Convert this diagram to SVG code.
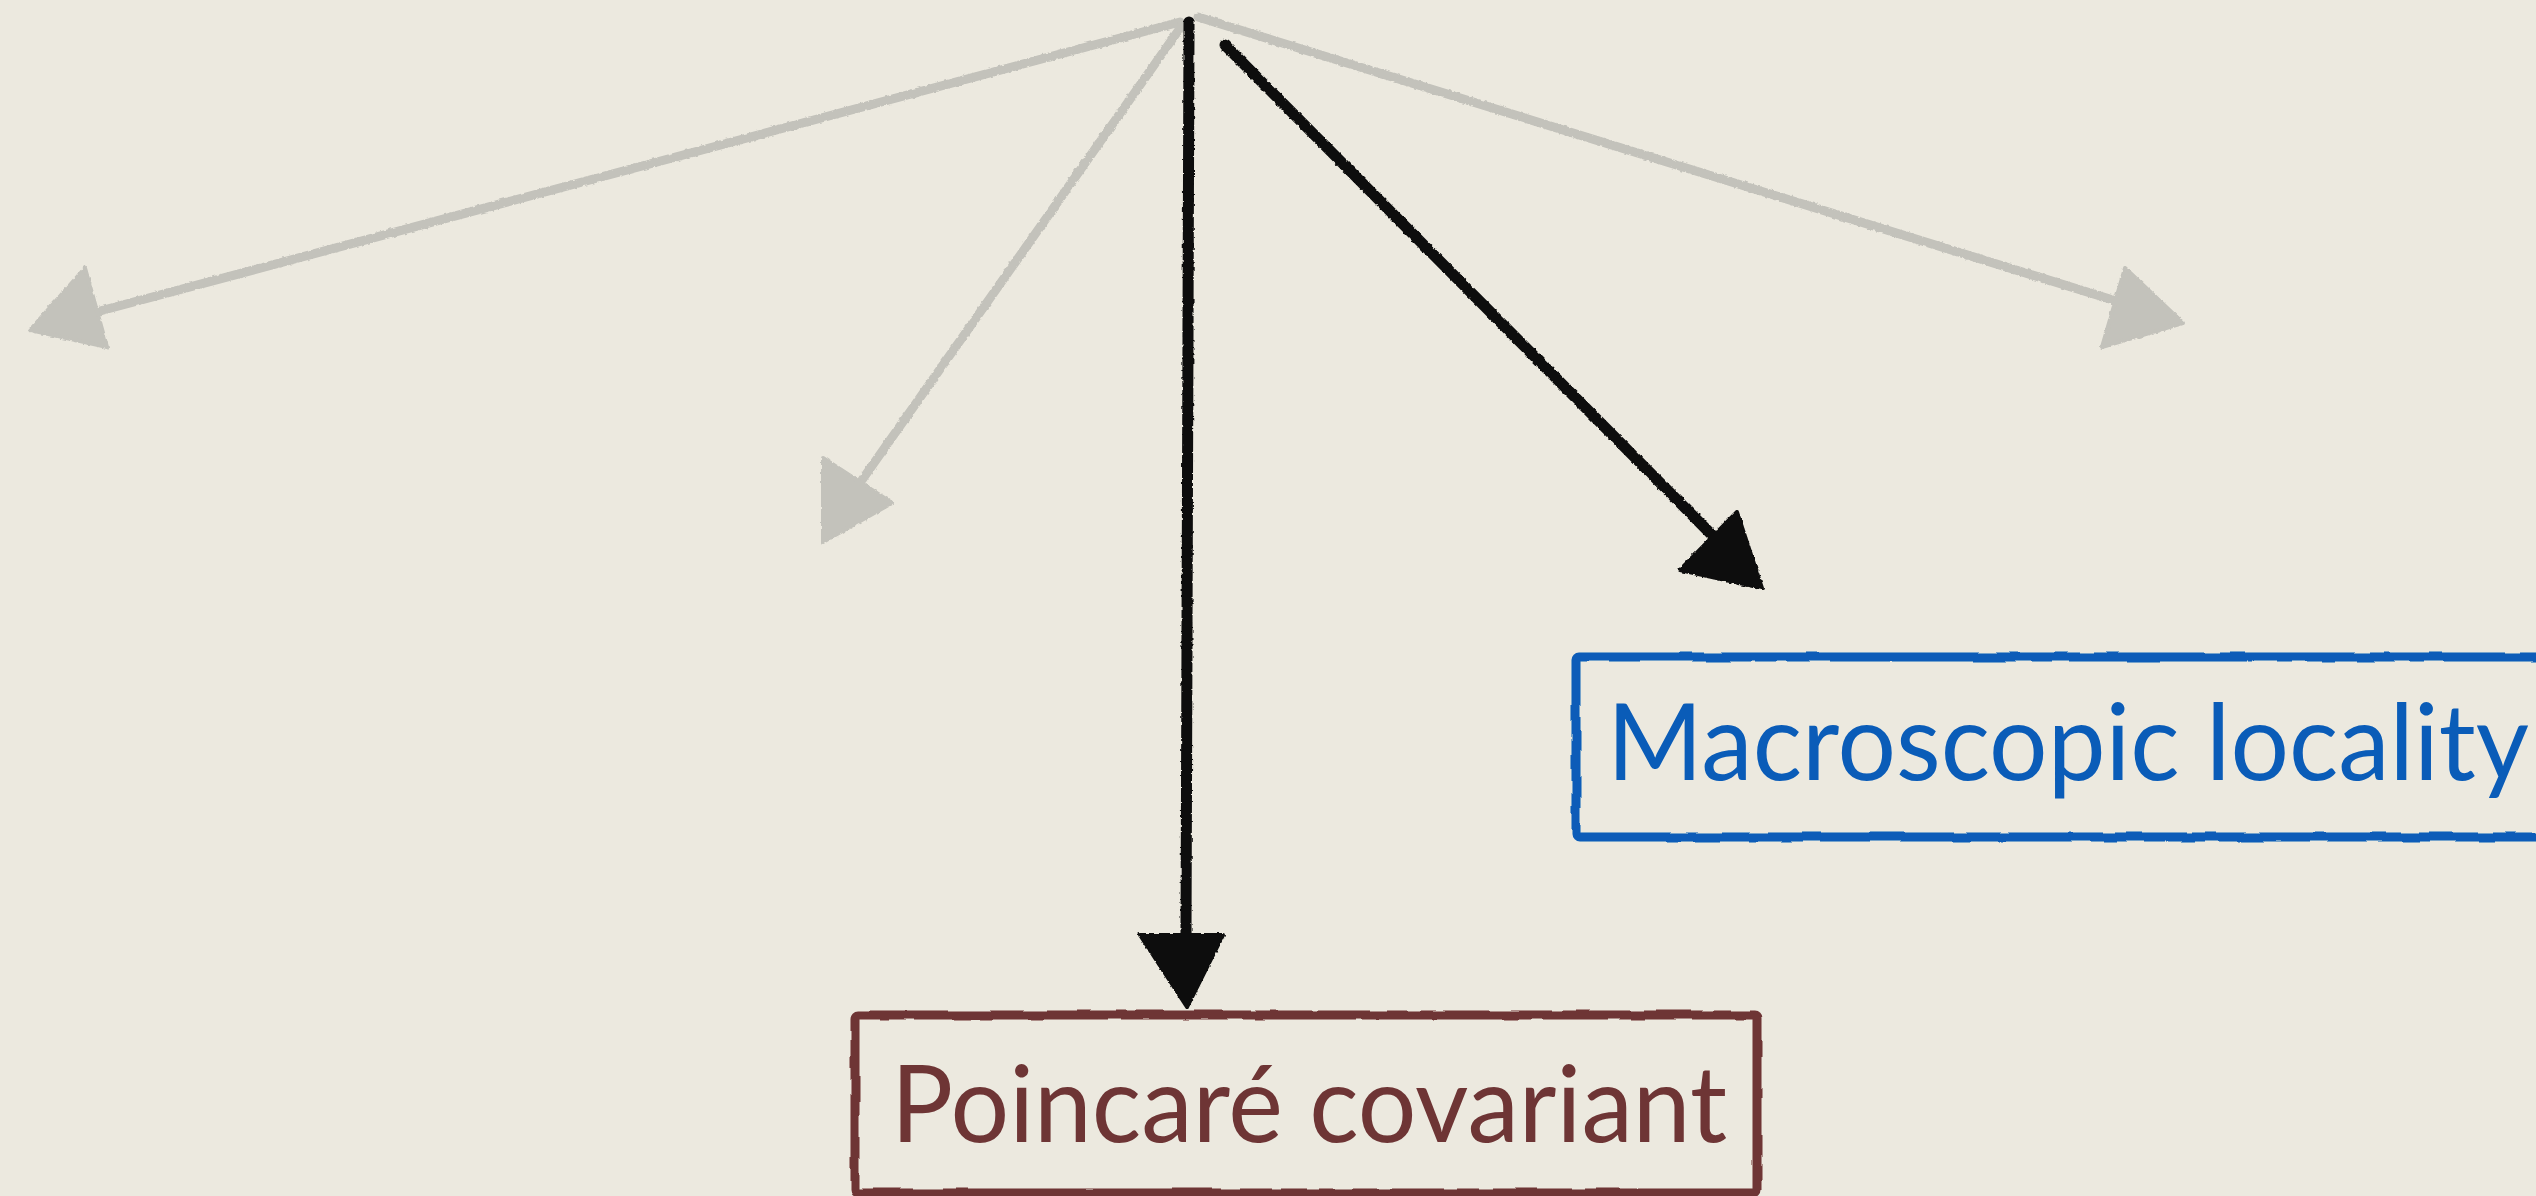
<svg xmlns="http://www.w3.org/2000/svg" width="2536" height="1196" viewBox="0 0 2536 1196">
  <defs>
    <filter id="rough" x="-5%" y="-5%" width="110%" height="110%">
      <feTurbulence type="fractalNoise" baseFrequency="0.25" numOctaves="2" seed="3" result="n"/>
      <feDisplacementMap in="SourceGraphic" in2="n" scale="3" xChannelSelector="R" yChannelSelector="G"/>
    </filter>
    <filter id="wob" x="-5%" y="-5%" width="110%" height="110%">
      <feTurbulence type="fractalNoise" baseFrequency="0.04" numOctaves="1" seed="7" result="n"/>
      <feDisplacementMap in="SourceGraphic" in2="n" scale="4" xChannelSelector="R" yChannelSelector="G"/>
    </filter>
  </defs>
  <style>
    .gray { stroke: #c3c2bb; fill: none; stroke-width: 9; stroke-linecap: round; }
    .grayhead { fill: #c3c2bb; stroke: #c3c2bb; stroke-width: 4; stroke-linejoin: round; }
    .black { stroke: #0d0d0d; fill: none; stroke-width: 11; stroke-linecap: round; }
    .blackhead { fill: #0d0d0d; stroke: #0d0d0d; stroke-width: 4; stroke-linejoin: round; }
    .label { font-family: Lato, "Open Sans", "Liberation Sans", sans-serif; font-size: 107px; }
  </style>
  <rect width="2536" height="1196" fill="#ece9df"/>

  <g id="connectors" filter="url(#rough)">
    <line class="gray" x1="1180" y1="22" x2="100" y2="311"/>
    <polygon class="grayhead" points="85,268 30,330 107,347"/>
    <line class="gray" x1="1183" y1="24" x2="862" y2="480"/>
    <polygon class="grayhead" points="823,458 892,503 823,542"/>
    <line class="gray" x1="1198" y1="17" x2="2113" y2="300"/>
    <polygon class="grayhead" points="2125,268 2183,323 2102,347"/>
    <line class="black" x1="1189" y1="22" x2="1186" y2="940"/>
    <polygon class="blackhead" points="1140,935 1223,935 1187,1007"/>
    <line class="black" x1="1225" y1="45" x2="1712" y2="535"/>
    <polygon class="blackhead" points="1737,512 1680,570 1762,588"/>
  </g>

  <g id="node-macroscopic-locality">
    <rect x="1576" y="657" width="1000" height="180" rx="3" fill="none" stroke="#0a5cb8" stroke-width="9" filter="url(#wob)"/>
    <text class="label" x="1607" y="780" fill="#0a5cb8" textLength="922" lengthAdjust="spacingAndGlyphs">Macroscopic locality</text>
  </g>

  <g id="node-poincare-covariant">
    <rect x="855" y="1015" width="902" height="178" rx="3" fill="none" stroke="#6e3535" stroke-width="9" filter="url(#wob)"/>
    <text class="label" x="891" y="1142" fill="#6e3535" textLength="836" lengthAdjust="spacingAndGlyphs">Poincaré covariant</text>
  </g>
</svg>
